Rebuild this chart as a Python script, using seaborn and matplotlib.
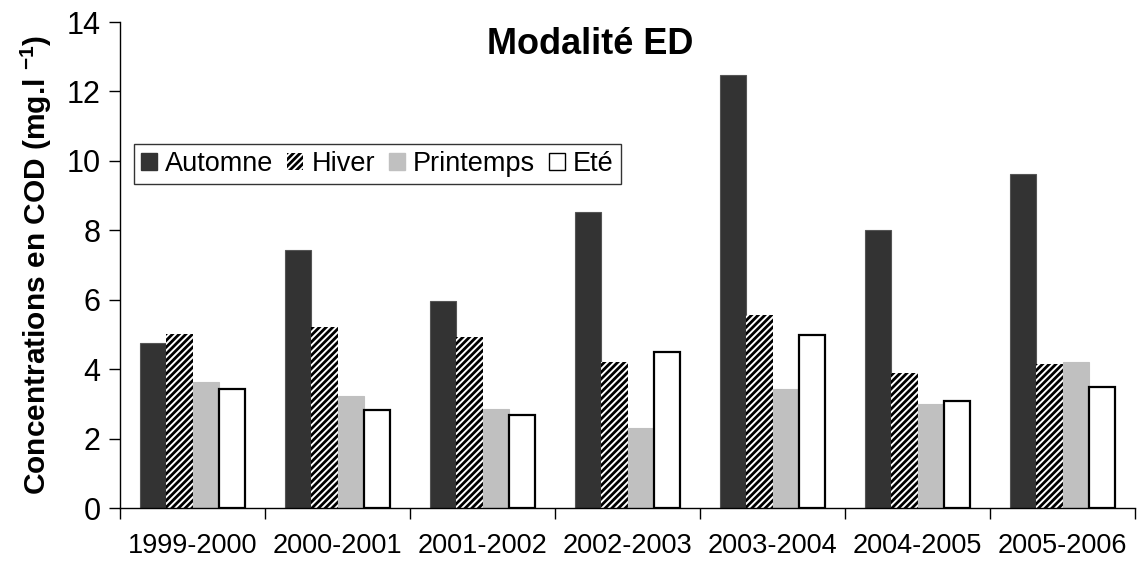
import matplotlib
matplotlib.use("Agg")
import matplotlib.pyplot as plt
from matplotlib.patches import Patch
from matplotlib.ticker import FixedLocator, MultipleLocator
import seaborn as sns
import pandas as pd

# Campaign years and seasonal mean COD concentrations (mg/l)
years = ["1999-2000", "2000-2001", "2001-2002", "2002-2003",
         "2003-2004", "2004-2005", "2005-2006"]
seasons = ["Automne", "Hiver", "Printemps", "Eté"]
automne = [4.75, 7.43, 5.97, 8.54, 12.48, 8.01, 9.62]
hiver = [5.00, 5.22, 4.94, 4.20, 5.56, 3.88, 4.16]
printemps = [3.64, 3.23, 2.84, 2.30, 3.43, 3.00, 4.21]
ete = [3.42, 2.82, 2.68, 4.49, 4.98, 3.08, 3.50]

rows = []
for season, vals in zip(seasons, [automne, hiver, printemps, ete]):
    for y, v in zip(years, vals):
        rows.append({"year": y, "season": season, "cod": v})
df = pd.DataFrame(rows)

sns.set_style("ticks")
plt.rcParams["font.family"] = ["Liberation Sans", "DejaVu Sans"]
plt.rcParams["text.color"] = "black"
plt.rcParams["axes.labelcolor"] = "black"
plt.rcParams["xtick.color"] = "black"
plt.rcParams["ytick.color"] = "black"
plt.rcParams["mathtext.fontset"] = "custom"
plt.rcParams["mathtext.rm"] = "Liberation Sans:bold"
plt.rcParams["mathtext.default"] = "rm"
plt.rcParams["hatch.linewidth"] = 2.0

fig = plt.figure(figsize=(11.38, 5.62), dpi=100)
ax = fig.add_axes([120 / 1138, 1 - 508 / 562, 1015 / 1138, 486 / 562])

face = {"Automne": "#333333", "Hiver": "white", "Printemps": "#c0c0c0", "Eté": "white"}
sns.barplot(data=df, x="year", y="cod", hue="season", hue_order=seasons,
            order=years, palette=face, width=0.725, gap=0.0,
            saturation=1, legend=False, ax=ax)

edge = {"Automne": "#555555", "Hiver": "black", "Printemps": "#c0c0c0", "Eté": "black"}
for season, cont in zip(seasons, ax.containers):
    for bar in cont:
        bar.set_edgecolor(edge[season])
        if season == "Hiver":
            bar.set_hatch("/////")
            bar.set_linewidth(0)
        elif season == "Eté":
            bar.set_linewidth(1.6)
        else:
            bar.set_linewidth(0.8)

ax.set_xlim(-0.5, len(years) - 0.5)
ax.set_ylim(0, 14)
ax.yaxis.set_major_locator(MultipleLocator(2))
ax.xaxis.set_minor_locator(FixedLocator([i - 0.5 for i in range(len(years) + 1)]))
ax.tick_params(axis="x", which="major", length=0, labelsize=19.5, pad=18)
ax.tick_params(axis="x", which="minor", length=8, width=1, direction="out")
ax.tick_params(axis="y", length=8, width=1, direction="out", labelsize=22, pad=6)
for s in ["top", "right"]:
    ax.spines[s].set_visible(False)
for s in ["left", "bottom"]:
    ax.spines[s].set_color("black")
    ax.spines[s].set_linewidth(1)

ax.set_xlabel("")
ax.set_ylabel("Concentrations en COD (mg.l $^{-1}$)", fontsize=21.5,
              fontweight="bold", labelpad=9)

fig.text(590 / 1138, 1 - 45 / 562, "Modalité ED", fontsize=26,
         fontweight="bold", ha="center", va="center")

handles = [Patch(facecolor="#333333", edgecolor="#333333"),
           Patch(facecolor="white", edgecolor="black", hatch="/////", linewidth=0),
           Patch(facecolor="#c0c0c0", edgecolor="#c0c0c0"),
           Patch(facecolor="white", edgecolor="black", linewidth=1)]
leg = fig.legend(handles, seasons, loc="upper left",
                 bbox_to_anchor=(134 / 1138, 1 - 144 / 562), ncol=4,
                 fontsize=19.5, frameon=True, fancybox=False, borderpad=0.25,
                 handlelength=0.6, handleheight=0.6, handletextpad=0.3,
                 columnspacing=0.5, borderaxespad=0)
leg.get_frame().set_edgecolor("black")
leg.get_frame().set_linewidth(1)

fig.savefig("out.png", dpi=100)
